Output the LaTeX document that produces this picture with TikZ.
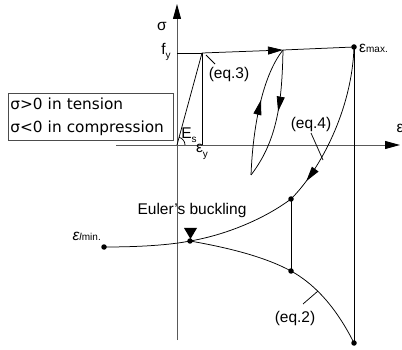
\documentclass[tikz,border=0pt]{standalone}
\usepackage{fontspec}
\setmainfont{Liberation Sans}
\newfontfamily\boxfont{DejaVu Sans}
\usetikzlibrary{arrows.meta,decorations.markings}
\newcommand\sbs[1]{\raisebox{-0.28em}{\fontsize{10}{10}\selectfont #1}}
\begin{document}
\begin{tikzpicture}[x=1pt,y=-1pt,
  axisline/.style={draw=black!65,line width=0.9pt},
  curveline/.style={draw=black,line width=0.75pt},
  tipstyle/.style={-{Triangle[length=15pt,width=8pt,black]}},
  midarrow/.style={postaction={decorate},decoration={markings,
     mark=at position #1 with {\arrow{Triangle[length=15pt,width=8pt]}}}},
  dotnode/.style={circle,fill=black,inner sep=0pt,minimum size=5.5pt},
  lbl/.style={inner sep=0pt,font=\fontsize{15.5}{18}\selectfont},
  boxtext/.style={font=\boxfont\fontsize{15.3}{23}\selectfont,align=left,
     draw=black!70,line width=0.8pt,inner xsep=2pt,inner ysep=2pt,
     minimum width=165pt,minimum height=47pt,text width=161pt}
]
\useasboundingbox (0,0) rectangle (402,350);
% coordinates
\coordinate (O) at (177,145);
\coordinate (Vtop) at (177,4);
\coordinate (Vbot) at (177,340);
\coordinate (Hl) at (116,145);
\coordinate (Hr) at (400,145);
\coordinate (F) at (177,53);
\coordinate (Y) at (202,53);
\coordinate (Yb) at (202,145);
\coordinate (P) at (283,50);
\coordinate (L) at (251,175);
\coordinate (Emax) at (354,47);
\coordinate (A) at (291,199);
\coordinate (E) at (190,241);
\coordinate (B) at (291,271);
\coordinate (Emin) at (104,247);
\coordinate (C) at (354,343);
% axes
\draw[axisline,tipstyle] (Vbot) -- (Vtop);
\draw[axisline,tipstyle] (Hl) -- (Hr);
% elastic part and plateau
\draw[curveline] (O) -- (Y);
\draw[curveline] (Y) -- (Yb);
\draw[curveline] (F) -- (Y);
\draw[curveline,tipstyle] (Y) -- (P);
\draw[curveline] (P) -- (Emax);
\draw[curveline] (O) ++(8,0) arc[start angle=0,end angle=-74.8,radius=8];
% lens loop
\draw[curveline,midarrow=0.58] (L) .. controls (253,125) and (263,75) .. (P);
\draw[curveline,midarrow=0.47] (P) .. controls (282,100) and (278,140) .. (L);
% big unloading curve
\draw[curveline,midarrow=0.86] (Emax) .. controls (352,110) and (320,170) .. (A);
\draw[curveline] (A) .. controls (260,222) and (220,236) .. (E);
\draw[curveline] (E) .. controls (230,248) and (265,257) .. (B);
\draw[curveline] (B) .. controls (320,287) and (340,315) .. (C);
\draw[curveline] (Emin) .. controls (140,247) and (170,245) .. (E);
\draw[curveline] (A) -- (B);
\draw[curveline] (Emax) -- (C);
% dots
\node[dotnode] (dEmax) at (Emax) {};
\node[dotnode] (dA) at (A) {};
\node[dotnode] (dB) at (B) {};
\node[dotnode] (dE) at (E) {};
\node[dotnode] (dEmin) at (Emin) {};
\node[dotnode] (dC) at (C) {};
% Euler triangle
\fill (184,228) -- (197,228) -- (190.5,239) -- cycle;
% labels
\node[lbl] (sig) at (162,26) {σ};
\node[lbl] (fy) at (166,52) {f\sbs{y}};
\node[lbl] (Es) at (189,135) {E\sbs{s}};
\node[lbl] (ey) at (202,152) {ε\sbs{y}};
\node[lbl] (eps) at (400,128) {ε};
\node[lbl] (eq3) at (229,74) {(eq.3)};
\node[lbl] (eq4) at (311,124) {(eq.4)};
\node[lbl] (eq2) at (295,318) {(eq.2)};
\node[lbl] (eul) at (192,210) {Euler's buckling};
\node[lbl,anchor=west] (emaxl) at (359,48) {ε{\fontsize{10}{10}\selectfont max.}};
\node[lbl,anchor=east] (eminl) at (101,236) {\itshape ε{\fontsize{10}{10}\selectfont\upshape\textit{l}min.}};
% leaders
\coordinate (l3a) at (206,55); \coordinate (l3b) at (215,64);
\draw[curveline] (l3a) -- (l3b);
\coordinate (l4a) at (311,133); \coordinate (l4b) at (323,160);
\draw[curveline] (l4a) -- (l4b);
\coordinate (l2a) at (303,304); \coordinate (l2b) at (318,291);
\draw[curveline] (l2a) -- (l2b);
% box
\node[boxtext,anchor=north west] (box) at (8,93) {σ>0 in tension\\σ<0 in compression};
\end{tikzpicture}
\end{document}
